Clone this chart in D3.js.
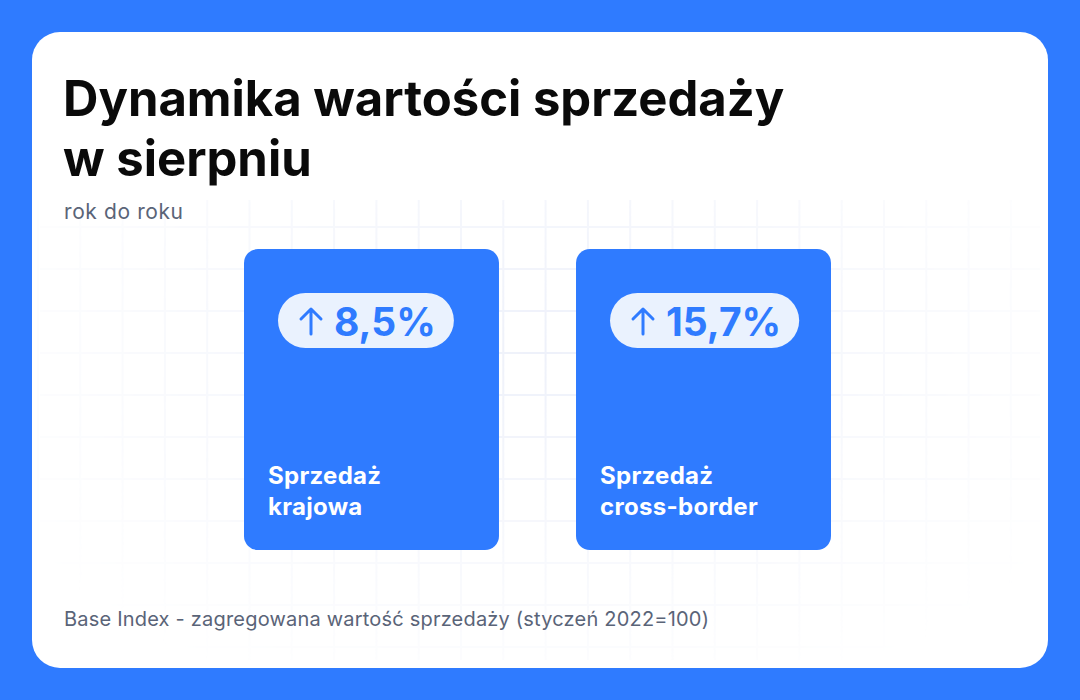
<!DOCTYPE html>
<html><head><meta charset="utf-8">
<script src="https://cdn.jsdelivr.net/npm/d3@7"></script>
<style>body{margin:0;background:#2f7bff}svg{display:block}text{font-family:Inter,"Noto Sans",sans-serif}</style>
</head><body><svg id="c" width="1080" height="700"></svg>
<script>
const categories = [["Sprzedaż","krajowa"],["Sprzedaż","cross-border"]];
const values = [8.5, 15.7];
const valueLabels = ["8,5%","15,7%"];

const svg = d3.select("#c");
const blue = "#2f7bff";
svg.append("rect").attr("width",1080).attr("height",700).attr("fill",blue);
svg.append("rect").attr("x",32).attr("y",32).attr("width",1016).attr("height",636).attr("rx",28).attr("fill","#fff");

const defs = svg.append("defs");
const rg = defs.append("radialGradient").attr("id","fade").attr("cx","50%").attr("cy","50%").attr("r","60%");
rg.append("stop").attr("offset","0%").attr("stop-color","#fff").attr("stop-opacity",1);
rg.append("stop").attr("offset","100%").attr("stop-color","#fff").attr("stop-opacity",0);
const mask = defs.append("mask").attr("id","m");
mask.append("rect").attr("x",32).attr("y",32).attr("width",1016).attr("height",636).attr("fill","url(#fade)");
const grid = svg.append("g").attr("mask","url(#m)").attr("stroke","#eef1fa").attr("stroke-width",2);
for(let x=38;x<1048;x+=42.3) grid.append("line").attr("x1",x).attr("x2",x).attr("y1",200).attr("y2",660);
for(let y=227;y<660;y+=42) grid.append("line").attr("x1",40).attr("x2",1040).attr("y1",y).attr("y2",y);

svg.append("text").attr("x",63).attr("y",116).attr("font-size",49).attr("font-weight",700).attr("fill","#0a0a0a").text("Dynamika wartości sprzedaży");
svg.append("text").attr("x",63).attr("y",176).attr("font-size",49).attr("font-weight",700).attr("fill","#0a0a0a").text("w sierpniu");
svg.append("text").attr("x",64).attr("y",219).attr("font-size",21).attr("letter-spacing",0.6).attr("fill","#5a6478").text("rok do roku");
svg.append("text").attr("x",64).attr("y",626).attr("font-size",20).attr("letter-spacing",0.2).attr("fill","#5a6478").text("Base Index - zagregowana wartość sprzedaży (styczeń 2022=100)");

const x = d3.scaleBand().domain(d3.range(values.length)).range([244,831]).paddingInner(0.232);
const g = svg.selectAll("g.card").data(values).join("g").attr("class","card")
  .attr("transform",(d,i)=>`translate(${x(i)},249)`);
g.append("rect").attr("width",x.bandwidth()).attr("height",301).attr("rx",14).attr("fill",blue);
g.each(function(d,i){
  const s=d3.select(this);
  const t=s.append("text").attr("x",90).attr("y",87).attr("font-size",39).attr("font-weight",700).attr("fill",blue).text(valueLabels[i]);
  const w=t.node().getComputedTextLength();
  s.insert("rect","text").attr("x",34).attr("y",44).attr("width",w+74).attr("height",55).attr("rx",27.5).attr("fill","#eaf2fe");
  s.append("path").attr("d","M67,60 L67,85 M57,70 L67,60 L77,70").attr("stroke",blue).attr("stroke-width",3).attr("fill","none").attr("stroke-linecap","round").attr("stroke-linejoin","round");
  s.append("text").attr("x",24).attr("y",235).attr("font-size",24).attr("font-weight",700).attr("letter-spacing",0.3).attr("fill","#fff").text(categories[i][0]);
  s.append("text").attr("x",24).attr("y",266).attr("font-size",24).attr("font-weight",700).attr("letter-spacing",0.3).attr("fill","#fff").text(categories[i][1]);
});
</script></body></html>
